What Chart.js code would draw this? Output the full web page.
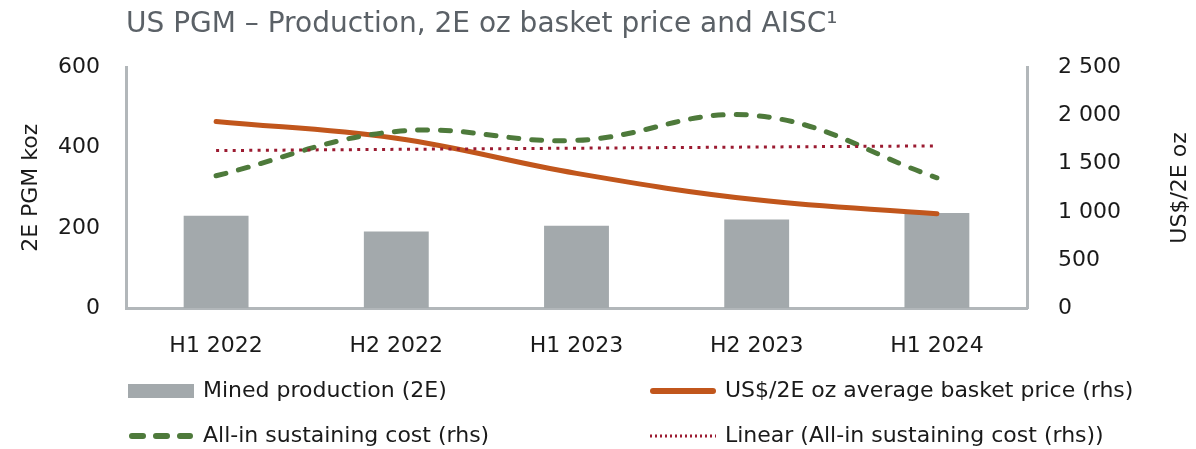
<!DOCTYPE html>
<html>
<head>
<meta charset="utf-8">
<script src="https://cdn.jsdelivr.net/npm/chart.js@4/dist/chart.umd.min.js"></script>
<style>
  html, body { margin: 0; padding: 0; background: #fff; }
  #wrap { width: 1196px; height: 449px; position: relative; }
</style>
</head>
<body>
<div id="wrap"><canvas id="chart"></canvas></div>
<script>
// === DATA ===
const categories = ['H1 2022', 'H2 2022', 'H1 2023', 'H2 2023', 'H1 2024'];
const minedProduction = [230, 191, 205, 221, 237];        // koz (lhs)
const basketPrice = [1940, 1765, 1400, 1125, 980];        // US$/2E oz (rhs)
const aisc = [1375, 1836, 1743, 2000, 1354];              // US$/2E oz (rhs)
const aiscTrend = [1637, 1650, 1662, 1674, 1686];         // linear trend (rhs)
const leftTicks = [0, 200, 400, 600];
const rightTicks = [0, 500, 1000, 1500, 2000, 2500];

const FONT = 'DejaVu Sans';
const GREY = '#a3a9ac';
const ORANGE = '#c1561c';
const GREEN = '#4e7a3b';
const RED = '#9b1b31';
const AXIS = '#b2b7ba';

function spaced(v) {
  return String(v).replace(/\B(?=(\d{3})+(?!\d))/g, ' ');
}

// === EXTRA TEXT: right axis title + two-column legend ===
const extras = {
  id: 'extras',
  afterDraw(chart) {
    const ctx = chart.ctx;
    ctx.save();
    ctx.fillStyle = '#1a1a1a';
    ctx.font = '22px "' + FONT + '"';
    ctx.textAlign = 'center';
    ctx.textBaseline = 'middle';
    ctx.translate(1180, 188);
    ctx.rotate(-Math.PI / 2);
    ctx.fillText('US$/2E oz', 0, 0);
    ctx.restore();

    const slots = [[128, 391], [650, 391], [128, 436], [650, 436]];
    chart.data.datasets.forEach((ds, i) => {
      const [x, y] = slots[i];
      ctx.save();
      if (ds.type === 'bar') {
        ctx.fillStyle = ds.backgroundColor;
        ctx.fillRect(x, y - 7, 66, 14);
      } else {
        ctx.strokeStyle = ds.borderColor;
        ctx.lineWidth = ds.legendWidth;
        ctx.lineCap = ds.borderCapStyle || 'butt';
        ctx.setLineDash(ds.legendDash || []);
        ctx.beginPath();
        ctx.moveTo(x + ds.legendInset, y);
        ctx.lineTo(x + 66 - ds.legendInset, y);
        ctx.stroke();
      }
      ctx.fillStyle = '#1a1a1a';
      ctx.font = '22px "' + FONT + '"';
      ctx.textAlign = 'left';
      ctx.textBaseline = 'middle';
      ctx.fillText(ds.label, x + 75, y);
      ctx.restore();
    });
  }
};

const ctx = document.getElementById('chart').getContext('2d');
new Chart(ctx, {
  data: {
    labels: categories,
    datasets: [
      {
        type: 'bar',
        label: 'Mined production (2E)',
        data: minedProduction,
        backgroundColor: GREY,
        yAxisID: 'y',
        barPercentage: 0.36,
        categoryPercentage: 1,
        order: 3
      },
      {
        type: 'line',
        label: 'US$/2E oz average basket price (rhs)',
        data: basketPrice,
        borderColor: ORANGE,
        borderWidth: 5,
        borderCapStyle: 'round',
        tension: 0.4,
        pointRadius: 0,
        yAxisID: 'y1',
        order: 2,
        legendWidth: 6, legendInset: 3
      },
      {
        type: 'line',
        label: 'All-in sustaining cost (rhs)',
        data: aisc,
        borderColor: GREEN,
        borderWidth: 5,
        borderDash: [10, 13],
        borderCapStyle: 'round',
        tension: 0.4,
        pointRadius: 0,
        yAxisID: 'y1',
        order: 1,
        legendWidth: 6, legendInset: 4, legendDash: [11, 13]
      },
      {
        type: 'line',
        label: 'Linear (All-in sustaining cost (rhs))',
        data: aiscTrend,
        borderColor: RED,
        borderWidth: 3,
        borderDash: [3, 5.3],
        tension: 0,
        pointRadius: 0,
        yAxisID: 'y1',
        order: 0,
        legendWidth: 3, legendInset: 0, legendDash: [2, 3]
      }
    ]
  },
  options: {
    responsive: true,
    maintainAspectRatio: false,
    animation: false,
    layout: { padding: { left: 0, right: 0, top: 0, bottom: 81 } },
    plugins: {
      legend: { display: false },
      tooltip: { enabled: false },
      title: {
        display: true,
        text: 'US PGM – Production, 2E oz basket price and AISC¹',
        align: 'start',
        fullSize: false,
        color: '#5b6167',
        font: { family: FONT, size: 28, weight: 'normal' },
        padding: { top: 8, bottom: 26 }
      }
    },
    scales: {
      x: {
        offset: true,
        grid: { display: false, drawTicks: false },
        border: { display: true, color: AXIS, width: 3 },
        ticks: { color: '#1a1a1a', padding: 25, font: { family: FONT, size: 22 } },
        afterFit(s) { s.height = 60; }
      },
      y: {
        position: 'left',
        min: 0, max: 600,
        afterBuildTicks(s) { s.ticks = leftTicks.map(v => ({ value: v })); },
        grid: { display: false, drawTicks: false },
        border: { display: true, color: AXIS, width: 3 },
        ticks: { color: '#1a1a1a', padding: 26, font: { family: FONT, size: 22 } },
        title: {
          display: true, text: '2E PGM koz', color: '#1a1a1a',
          font: { family: FONT, size: 22 }, padding: { top: 18, bottom: 0 }
        },
        afterFit(s) { s.width = 126; }
      },
      y1: {
        position: 'right',
        min: 0, max: 2500,
        afterBuildTicks(s) { s.ticks = rightTicks.map(v => ({ value: v })); },
        grid: { display: false, drawTicks: false },
        border: { display: true, color: AXIS, width: 3 },
        ticks: {
          color: '#1a1a1a', padding: 31, font: { family: FONT, size: 22 },
          callback: v => spaced(v)
        },
        afterFit(s) { s.width = 169; }
      }
    }
  },
  plugins: [extras]
});
</script>
</body>
</html>
